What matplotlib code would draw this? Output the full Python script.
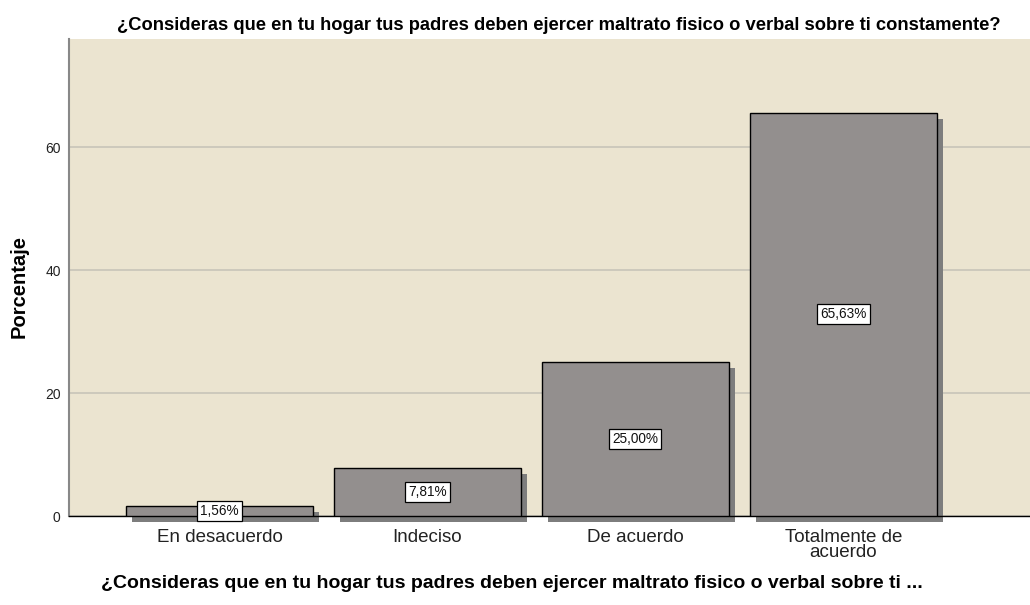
import matplotlib.pyplot as plt
import matplotlib.transforms as mtransforms

plt.rcParams["font.family"] = ["Liberation Sans", "DejaVu Sans"]

TITLE = "¿Consideras que en tu hogar tus padres deben ejercer maltrato fisico o verbal sobre ti constamente?"
XLABEL = "¿Consideras que en tu hogar tus padres deben ejercer maltrato fisico o verbal sobre ti ..."
YLABEL = "Porcentaje"

categories = ["En desacuerdo", "Indeciso", "De acuerdo", "Totalmente de\nacuerdo"]
percentages = [1.56, 7.81, 25.00, 65.63]
labels = ["1,56%", "7,81%", "25,00%", "65,63%"]
y_ticks = [0, 20, 40, 60]

BG = "#ebe4d0"
BAR = "#938f8e"
SHADOW = "#7d7d7d"

fig = plt.figure(figsize=(10.3, 6.05), dpi=100)
ax = fig.add_axes([69 / 1030, 1 - 516 / 605, 961 / 1030, 477 / 605])
ax.set_facecolor(BG)

x = list(range(len(categories)))
width = 0.9

# drop shadow, shifted right and down
shift = ax.transData + mtransforms.ScaledTranslation(6 / 100, -6 / 100, fig.dpi_scale_trans)
ax.bar(x, percentages, width=width, color=SHADOW, linewidth=0, transform=shift,
       clip_on=False, zorder=2)
ax.bar(x, percentages, width=width, color=BAR, edgecolor="black", linewidth=1.0, zorder=3)

for xi, val, lab in zip(x, percentages, labels):
    ax.text(xi, val / 2, lab, ha="center", va="center", fontsize=9.8, zorder=5,
            color="#111111",
            bbox=dict(boxstyle="square,pad=0.22", fc="white", ec="black", lw=0.9))

ax.set_xlim(-0.724, 3.897)
ax.set_ylim(0, 77.6)
ax.set_yticks(y_ticks)
ax.set_yticklabels([str(t) for t in y_ticks], fontsize=10, color="#222222")
ax.set_xticks(x)
ax.set_xticklabels(categories, fontsize=13.5, color="#222222", linespacing=0.85)
ax.tick_params(axis="x", length=0, pad=9)
ax.tick_params(axis="y", length=0, pad=6)
ax.yaxis.grid(True, color="#c8c4b8", linewidth=1.2, zorder=1)
ax.set_axisbelow(True)

for side in ["top", "right"]:
    ax.spines[side].set_visible(False)
ax.spines["left"].set_color("#888888")
ax.spines["left"].set_linewidth(1.5)
ax.spines["bottom"].set_color("black")
ax.spines["bottom"].set_linewidth(1.0)

ax.set_ylabel(YLABEL, fontsize=14.5, fontweight="bold")
ax.yaxis.set_label_coords(-(69 - 29) / 961, (516 - 287) / 477)
fig.text(559 / 1030, 1 - 26 / 605, TITLE, ha="center", va="center",
         fontsize=13.2, fontweight="bold")
fig.text(512 / 1030, 1 - 583 / 605, XLABEL, ha="center", va="center",
         fontsize=14, fontweight="bold")

fig.savefig("out.png", dpi=100, facecolor="white")
